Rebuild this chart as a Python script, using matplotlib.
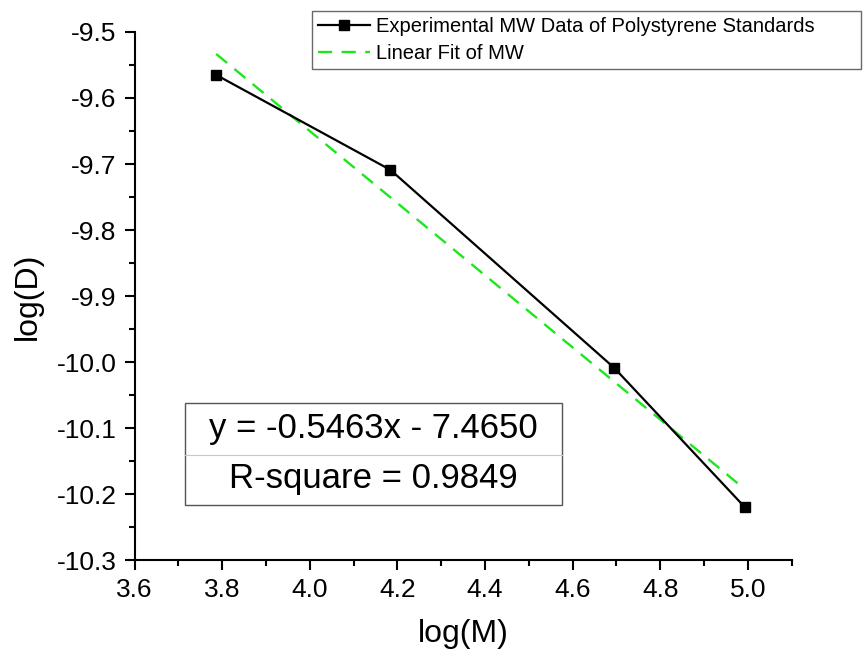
import matplotlib
matplotlib.use("Agg")
import matplotlib.pyplot as plt
from matplotlib.patches import Rectangle
from matplotlib.lines import Line2D
from matplotlib.ticker import MultipleLocator, FormatStrFormatter

plt.rcParams['font.family'] = ['Liberation Sans', 'DejaVu Sans']

# log(M) and log(D) of the polystyrene standards
log_m = [3.786, 4.184, 4.695, 4.993]
log_d = [-9.565, -9.709, -10.009, -10.220]

# linear fit coefficients
slope = -0.5463
intercept = -7.4650
r_square = 0.9849

fig = plt.figure(figsize=(8.64, 6.53), dpi=100)
ax = fig.add_axes([0.1559, 0.1424, 0.7604, 0.8086])

fit_x = [log_m[0], log_m[-1]]
fit_y = [slope * v + intercept for v in fit_x]

ax.plot(log_m, log_d, color='black', lw=1.6, marker='s', ms=7.5,
        label='Experimental MW Data of Polystyrene Standards', zorder=3)
ax.plot(fit_x, fit_y, color='#1ee61e', lw=1.7, dashes=(6, 4),
        label='Linear Fit of MW', zorder=2)

ax.set_xlim(3.6, 5.1)
ax.set_ylim(-10.3, -9.5)
ax.xaxis.set_major_locator(MultipleLocator(0.2))
ax.xaxis.set_minor_locator(MultipleLocator(0.1))
ax.yaxis.set_major_locator(MultipleLocator(0.1))
ax.yaxis.set_minor_locator(MultipleLocator(0.05))
ax.xaxis.set_major_formatter(FormatStrFormatter('%.1f'))
ax.yaxis.set_major_formatter(FormatStrFormatter('%.1f'))

ax.spines['top'].set_visible(False)
ax.spines['right'].set_visible(False)
for s in ('left', 'bottom'):
    ax.spines[s].set_linewidth(1.5)
ax.tick_params(which='major', direction='out', length=7, width=1.5,
               labelsize=19, pad=6)
ax.tick_params(which='minor', direction='out', length=4, width=1.5)

ax.set_xlabel('log(M)', fontsize=23, labelpad=12)
ax.set_ylabel('log(D)', fontsize=23, labelpad=10)

# fit result box
bx0, bx1 = 0.0766, 0.650
by0, bmid, by1 = 0.104, 0.199, 0.297
ax.add_patch(Rectangle((bx0, by0), bx1 - bx0, by1 - by0, transform=ax.transAxes,
                       fill=True, facecolor='white', edgecolor='#555555', lw=1.0, zorder=4))
ax.add_line(Line2D([bx0, bx1], [bmid, bmid], transform=ax.transAxes,
                   color='#c8c8c8', lw=0.8, zorder=5))
xc = (bx0 + bx1) / 2
ax.text(xc, (bmid + by1) / 2 + 0.002, f'y = {slope:.4f}x - {abs(intercept):.4f}',
        transform=ax.transAxes, ha='center', va='center', fontsize=25, zorder=6)
ax.text(xc, (by0 + bmid) / 2 + 0.002, f'R-square = {r_square:.4f}',
        transform=ax.transAxes, ha='center', va='center', fontsize=25, zorder=6)

lx0, lx1, ly0 = 312 / 864, 861 / 864, 1 - 11 / 653
leg = fig.legend(loc='upper left', bbox_to_anchor=(lx0, ly0 - 0.1, lx1 - lx0, 0.1),
                 mode='expand', fontsize=14.5, frameon=True, fancybox=False,
                 edgecolor='#444444', borderpad=0.3, handlelength=2.6,
                 handletextpad=0.3, labelspacing=0.4, borderaxespad=0)
leg.get_frame().set_linewidth(1.0)

fig.savefig('out.png', dpi=100)
